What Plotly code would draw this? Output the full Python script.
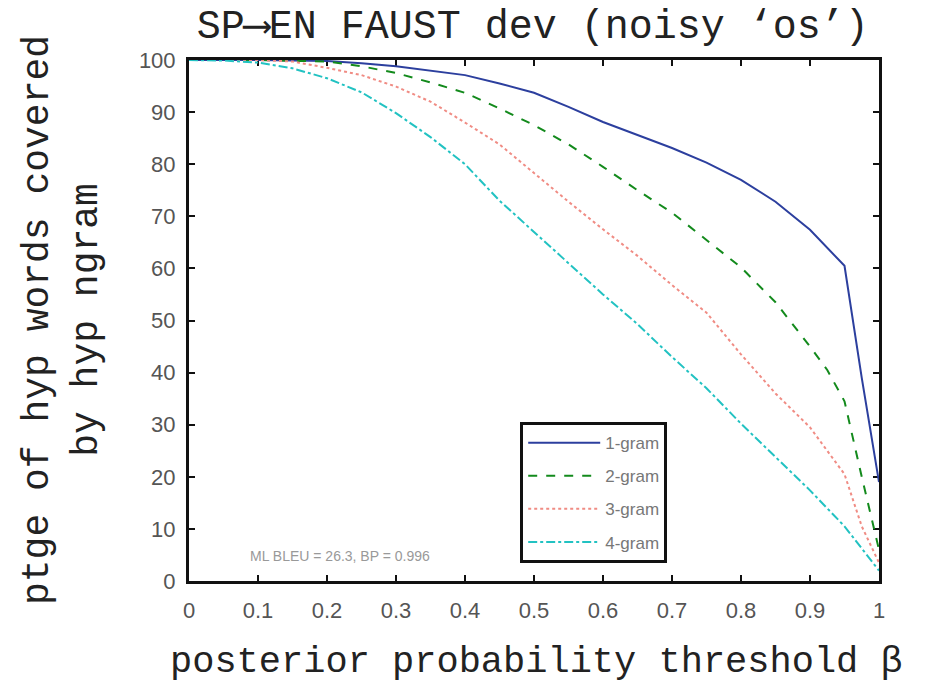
import plotly.graph_objects as go

# ---- data ----
x_1gram = [0, 0.1, 0.2, 0.25, 0.3, 0.35, 0.4, 0.45, 0.5, 0.55, 0.6, 0.65, 0.7, 0.75, 0.8, 0.85, 0.9, 0.95, 0.975, 1.0]
y_1gram = [100, 100, 99.8, 99.4, 98.8, 98.0, 97.1, 95.5, 93.7, 91.0, 88.1, 85.6, 83.1, 80.3, 77.0, 72.8, 67.4, 60.5, 39.0, 19.0]

x_2gram = [0, 0.1, 0.2, 0.25, 0.3, 0.35, 0.4, 0.45, 0.5, 0.55, 0.6, 0.65, 0.7, 0.75, 0.8, 0.85, 0.9, 0.925, 0.95, 0.975, 1.0]
y_2gram = [100, 100, 99.7, 98.8, 97.5, 95.7, 93.7, 90.7, 87.5, 83.8, 79.5, 75.0, 70.7, 65.5, 60.2, 53.5, 45.0, 40.5, 34.5, 20.0, 6.0]

x_3gram = [0, 0.1, 0.15, 0.2, 0.25, 0.3, 0.35, 0.4, 0.45, 0.5, 0.55, 0.6, 0.65, 0.7, 0.75, 0.8, 0.85, 0.9, 0.95, 0.975, 1.0]
y_3gram = [100, 100, 99.7, 98.5, 97.1, 94.9, 92.0, 88.0, 83.8, 78.3, 72.8, 67.5, 62.4, 56.8, 51.5, 43.5, 36.0, 29.5, 20.5, 10.5, 3.5]

x_4gram = [0, 0.05, 0.1, 0.15, 0.2, 0.25, 0.3, 0.35, 0.4, 0.45, 0.5, 0.55, 0.6, 0.65, 0.7, 0.75, 0.8, 0.85, 0.9, 0.95, 1.0]
y_4gram = [100, 99.9, 99.5, 98.4, 96.5, 93.8, 89.8, 85.2, 80.0, 73.0, 67.0, 61.0, 55.0, 49.3, 43.0, 37.0, 30.2, 23.8, 17.4, 10.5, 2.0]

series_names = ["1-gram", "2-gram", "3-gram", "4-gram"]
x_ticks = [0, 0.1, 0.2, 0.3, 0.4, 0.5, 0.6, 0.7, 0.8, 0.9, 1]
x_tick_labels = ["0", "0.1", "0.2", "0.3", "0.4", "0.5", "0.6", "0.7", "0.8", "0.9", "1"]
y_ticks = [0, 10, 20, 30, 40, 50, 60, 70, 80, 90, 100]

styles = [
    dict(color="#2c3f9e", dash="solid", width=2),
    dict(color="#138a1c", dash="dash", width=2),
    dict(color="#f08c84", dash="dot", width=2),
    dict(color="#22c2c2", dash="dashdot", width=2),
]

fig = go.Figure()
for name, xs, ys, st in zip(series_names,
                            [x_1gram, x_2gram, x_3gram, x_4gram],
                            [y_1gram, y_2gram, y_3gram, y_4gram],
                            styles):
    fig.add_trace(go.Scatter(x=xs, y=ys, mode="lines", name=name,
                             legendgroup=name, cliponaxis=False,
                             line=dict(color=st["color"], dash=st["dash"], width=st["width"])))

mono = "Liberation Mono, Courier New, monospace"
sans = "Liberation Sans, Arial, sans-serif"

fig.update_layout(
    width=948, height=685,
    margin=dict(l=189, r=69, t=60, b=104),
    paper_bgcolor="white", plot_bgcolor="white",
    title=dict(text="SP\u27f6EN FAUST dev (noisy \u2018os\u2019)",
               font=dict(family=mono, size=40, color="#222"),
               x=0.562, xanchor="center", xref="container",
               y=1 - 24 / 685, yanchor="middle", yref="container"),
    showlegend=True,
    legend=dict(x=0.48, y=0.305, xanchor="left", yanchor="top",
                bordercolor="#111", borderwidth=3, bgcolor="white",
                font=dict(family=sans, size=17, color="#777"),
                traceorder="grouped", tracegroupgap=8, itemwidth=72,
                entrywidth=88),
    annotations=[
        dict(text="posterior probability threshold \u03b2", xref="paper", yref="paper",
             x=0.504, y=-0.156, xanchor="center", yanchor="middle", showarrow=False,
             font=dict(family=mono, size=37, color="#222")),
        dict(text="ptge of hyp words covered<br>by hyp ngram", xref="paper", yref="paper",
             x=-0.184, y=0.501, xanchor="center", yanchor="middle", showarrow=False,
             textangle=-90, align="center",
             font=dict(family=mono, size=38, color="#222")),
        dict(text="ML BLEU = 26.3, BP = 0.996", xref="paper", yref="paper",
             x=0.219, y=0.048, xanchor="center", yanchor="middle", showarrow=False,
             font=dict(family=sans, size=14, color="#999")),
    ],
)

axis_common = dict(showgrid=False, zeroline=False, showline=True, linecolor="#111",
                   linewidth=3, mirror="ticks", ticks="inside", ticklen=6, tickwidth=2,
                   tickcolor="#111", tickfont=dict(family=sans, size=22, color="#555"),
                   layer="below traces")

fig.update_xaxes(range=[0, 1], tickvals=x_ticks, ticktext=x_tick_labels,
                 ticklabelstandoff=8, **axis_common)
fig.update_yaxes(range=[0, 100], tickvals=y_ticks, ticklabelstandoff=6, **axis_common)

fig.write_html("out.html")
